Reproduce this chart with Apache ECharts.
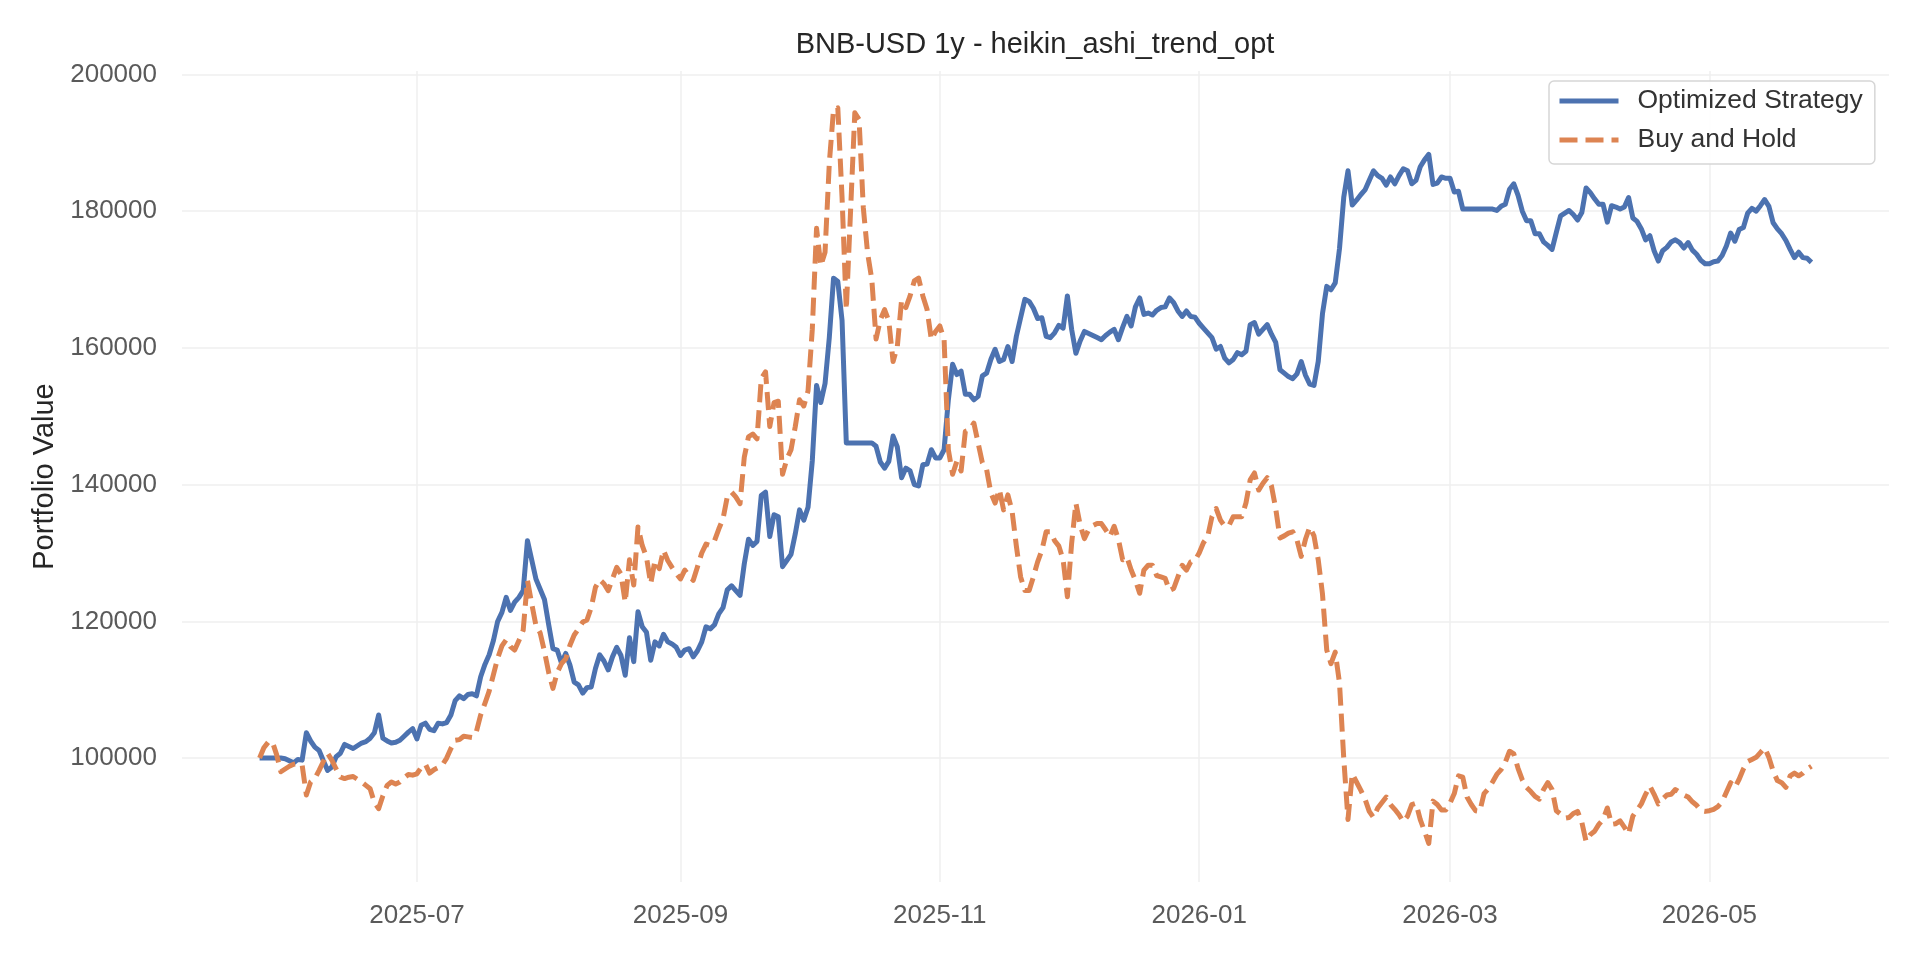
<!DOCTYPE html>
<html>
<head>
<meta charset="utf-8">
<title>BNB-USD 1y - heikin_ashi_trend_opt</title>
<script src="https://cdn.jsdelivr.net/npm/echarts@6/dist/echarts.min.js"></script>
<style>
html, body { margin: 0; padding: 0; background: #ffffff; }
#main { width: 1920px; height: 960px; }
</style>
</head>
<body>
<div id="main"></div>
<script>
// first day of both series (one value per calendar day after it)
var startDate = '2025-05-25';
var seriesNames = ['Optimized Strategy', 'Buy and Hold'];

// portfolio value of the optimized strategy, daily
var strategyValues = [
	100000, 100000, 100000, 100000, 100000, 100000, 99900, 99600, 99300, 99800,
	99700, 103700, 102500, 101600, 101100, 99600, 98200, 98700, 100200, 100700,
	102000, 101700, 101400, 101800, 102200, 102400, 102900, 103700, 106300, 102900,
	102500, 102200, 102300, 102600, 103200, 103800, 104300, 102800, 104800, 105100,
	104200, 104000, 105100, 105000, 105200, 106300, 108400, 109100, 108700, 109300,
	109400, 109100, 111900, 113700, 115100, 117200, 120000, 121300, 123500, 121600,
	122800, 123500, 124500, 131800, 129000, 126200, 124700, 123200, 119500, 116000,
	115800, 113900, 115300, 113600, 111100, 110700, 109500, 110300, 110400, 113100,
	115100, 114200, 112900, 114800, 116200, 115000, 112100, 117600, 114100, 121400,
	119200, 118400, 114300, 117000, 116400, 118100, 117000, 116700, 116200, 115000,
	115800, 116000, 114800, 115700, 117000, 119200, 118900, 119500, 121100, 122000,
	124600, 125200, 124500, 123800, 128400, 132000, 131100, 131700, 138400, 138900,
	132400, 135600, 135300, 128000, 128900, 129800, 132800, 136300, 134800, 136700,
	143500, 154500, 152000, 154800, 161500, 170200, 169700, 164000, 146100, 146100,
	146100, 146100, 146100, 146100, 146100, 145600, 143300, 142400, 143400, 147100,
	145500, 141000, 142400, 142000, 140000, 139800, 142900, 143000, 145100, 143900,
	143900, 145100, 152400, 157600, 156100, 156600, 153200, 153200, 152400, 152900,
	155900, 156300, 158300, 159800, 158000, 158300, 160200, 158000, 161700, 164400,
	167100, 166800, 165800, 164300, 164400, 161700, 161500, 162200, 163300, 162900,
	167600, 162700, 159200, 161000, 162400, 162100, 161800, 161500, 161200, 161800,
	162300, 162700, 161200, 163000, 164600, 163200, 166000, 167300, 164900, 165100,
	164800, 165500, 165900, 166000, 167300, 166600, 165400, 164600, 165400, 164600,
	164500, 163600, 162900, 162200, 161500, 159800, 160200, 158500, 157800, 158300,
	159300, 159000, 159500, 163400, 163700, 162000, 162700, 163400, 162000, 160800,
	156800, 156300, 155800, 155500, 156200, 158000, 156000, 154700, 154500, 158000,
	165000, 169000, 168500, 169500, 174500, 182000, 185900, 180900, 181600, 182400,
	183100, 184500, 185900, 185200, 184800, 183800, 185000, 184000, 185200, 186200,
	185900, 184000, 184500, 186500, 187500, 188300, 183900, 184100, 185000, 184800,
	184800, 182800, 182900, 180300, 180300, 180300, 180300, 180300, 180300, 180300,
	180300, 180100, 180700, 181000, 183200, 184000, 182300, 180000, 178600, 178600,
	176700, 176700, 175500, 175000, 174400, 176900, 179300, 179700, 180100, 179500,
	178700, 179800, 183400, 182700, 181800, 181000, 181000, 178400, 180800, 180600,
	180300, 180600, 182000, 179000, 178500, 177400, 175800, 176400, 174200, 172700,
	174200, 174700, 175500, 175800, 175400, 174600, 175400, 174300, 173700, 172800,
	172300, 172300, 172600, 172700, 173500, 174900, 176800, 175600, 177300, 177600,
	179700, 180400, 180000, 180800, 181700, 180700, 178300, 177400, 176700, 175700,
	174400, 173200, 174000, 173200, 173100, 172500
];

// portfolio value of buy and hold, daily
var buyHoldValues = [
	100000, 101500, 102300, 102400, 100500, 98000, 98400, 98800, 99100, 99200,
	99000, 94600, 96500, 97000, 98200, 99500, 100700, 99700, 98400, 97200,
	97000, 97200, 97300, 96900, 96500, 96000, 95500, 93500, 92600, 94500,
	96000, 96500, 96200, 96500, 97100, 97600, 97500, 97700, 98600, 99100,
	97800, 98300, 98600, 99000, 100000, 101400, 102600, 102700, 103200, 103100,
	103000, 103900, 106300, 108000, 109800, 112200, 114600, 116400, 117300, 116300,
	115800, 117200, 118700, 126000, 122600, 119400, 118300, 115600, 112500, 110200,
	112500, 113800, 114500, 116500, 118000, 118900, 119900, 120200, 122000, 125000,
	126100, 125500, 124500, 126200, 127900, 126900, 122800, 129000, 125300, 133800,
	131100, 129400, 125500, 128900, 127700, 130400, 128900, 127900, 127000, 126200,
	127500, 126700, 126000, 128000, 130000, 131300, 131100, 131800, 133500, 135000,
	138200, 138900, 138200, 137200, 144000, 147000, 147400, 146700, 155500, 156500,
	148500, 152000, 152200, 141500, 143700, 145100, 148500, 152400, 151500, 153700,
	162700, 177500, 172000, 174000, 187000, 194900, 195100, 182000, 165600, 180000,
	194400, 193400, 180500, 173900, 170000, 161300, 164100, 165600, 163900, 158000,
	160200, 167000, 165900, 167600, 169800, 170200, 167600, 165600, 161200, 162400,
	163200, 161200, 145100, 141500, 143400, 142000, 147800, 148000, 149000, 146100,
	143200, 142200, 138800, 137300, 139300, 136300, 138500, 136100, 131000, 126500,
	124500, 124500, 126500, 128700, 130400, 133100, 133100, 131800, 131000, 129000,
	123600, 131400, 137300, 134100, 132100, 133400, 134000, 134300, 134300, 133400,
	132400, 133900, 132000, 129000, 129400, 127500, 126000, 124100, 127500, 128200,
	128200, 126700, 126500, 126300, 124500, 124800, 126500, 128200, 127500, 128700,
	128900, 130000, 131500, 132400, 135300, 136500, 134800, 133900, 134000, 135300,
	135300, 135300, 137300, 140700, 141700, 139200, 140200, 141000, 139800, 136500,
	132200, 132500, 132900, 133100, 131900, 129500, 132000, 133800, 132500, 129000,
	124000, 115800, 113800, 115500, 111000, 100000, 91000, 97700, 96500, 95300,
	94000, 92200, 91300, 92700, 93500, 94300, 93200, 92500, 91700, 90700,
	91500, 93200, 93400, 91000, 89300, 87500, 93700, 93200, 92400, 92400,
	93400, 94800, 97400, 97200, 94300, 93200, 92300, 92200, 94800, 95500,
	96500, 97600, 98300, 99400, 101000, 100600, 98500, 96800, 95700, 95100,
	94400, 94000, 95400, 96400, 95400, 92300, 91800, 91200, 91300, 91900,
	92200, 90600, 87800, 88800, 89300, 90300, 91000, 92700, 90300, 90400,
	90800, 89900, 88900, 91500, 92400, 93300, 94700, 95900, 94700, 93300,
	94000, 94600, 94700, 95400, 95000, 94600, 94300, 93600, 93100, 92300,
	92200, 92300, 92500, 92900, 93600, 95000, 96400, 95700, 96900, 98400,
	99500, 99800, 100100, 100800, 101500, 100100, 98100, 96700, 96400, 95700,
	97400, 97800, 97400, 97800, 98400, 98800
];

// x tick labels (every second month)
var tickDates = ['2025-07-01', '2025-09-01', '2025-11-01', '2026-01-01', '2026-03-01', '2026-05-01'];

var DAY = 86400000;

function toUtc(s) {
	var p = s.split('-');
	return Date.UTC(+p[0], +p[1] - 1, +p[2]);
}

function pad2(n) {
	return n < 10 ? '0' + n : '' + n;
}

function toPairs(values) {
	var t0 = toUtc(startDate);
	var out = [];
	for (var i = 0; i < values.length; i++) {
		out.push([t0 + i * DAY, values[i]]);
	}
	return out;
}

var t0 = toUtc(startDate);
var t1 = t0 + (strategyValues.length - 1) * DAY;
// 5% padding on both sides like the original plot
var pad = (t1 - t0) * 0.05;
var tickValues = tickDates.map(toUtc);

var font = "'Liberation Sans', Arial, 'DejaVu Sans', sans-serif";
var gridColor = '#efefef';
var lineWidth = 5;

var chart = echarts.init(document.getElementById('main'), null, { renderer: 'canvas' });

chart.setOption({
	animation: false,
	backgroundColor: '#ffffff',
	textStyle: { fontFamily: font },
	title: {
		text: 'BNB-USD 1y - heikin_ashi_trend_opt',
		left: 1035,
		top: 29,
		textAlign: 'center',
		padding: 0,
		textStyle: {
			fontFamily: font,
			fontSize: 29,
			lineHeight: 32,
			fontWeight: 'normal',
			color: '#262626'
		}
	},
	legend: {
		orient: 'vertical',
		left: 1549,
		top: 81,
		padding: [5, 12, 9, 8],
		itemGap: 9,
		itemWidth: 59,
		itemHeight: 14,
		backgroundColor: 'rgba(255,255,255,0.85)',
		borderColor: '#d6d6d6',
		borderWidth: 1.5,
		borderRadius: 5,
		selectedMode: false,
		data: seriesNames,
		// line only, no marker in the middle
		itemStyle: { opacity: 0 },
		lineStyle: { width: lineWidth },
		textStyle: {
			fontFamily: font,
			fontSize: 26.5,
			lineHeight: 30,
			color: '#333333',
			padding: [0, 0, 0, 14]
		}
	},
	grid: {
		left: 182,
		right: 31,
		top: 71,
		bottom: 78
	},
	// dates are kept as UTC timestamps on a plain value axis
	xAxis: {
		type: 'value',
		min: t0 - pad,
		max: t1 + pad,
		axisLine: { show: false },
		axisTick: { show: false, customValues: tickValues },
		splitLine: { show: true, lineStyle: { color: gridColor, width: 1.5 } },
		axisLabel: {
			customValues: tickValues,
			margin: 21,
			fontFamily: font,
			fontSize: 26,
			color: '#5a5a5a',
			formatter: function (v) {
				var d = new Date(v);
				return d.getUTCFullYear() + '-' + pad2(d.getUTCMonth() + 1);
			}
		}
	},
	yAxis: {
		type: 'value',
		min: 81870,
		max: 200500,
		splitNumber: 5,
		name: 'Portfolio Value',
		nameLocation: 'middle',
		nameGap: 119,
		nameTextStyle: {
			fontFamily: font,
			fontSize: 29,
			color: '#262626'
		},
		axisLine: { show: false },
		axisTick: { show: false },
		splitLine: {
			show: true,
			showMinLine: false,
			showMaxLine: false,
			lineStyle: { color: gridColor, width: 1.5 }
		},
		axisLabel: {
			margin: 25,
			fontFamily: font,
			fontSize: 26,
			color: '#5a5a5a',
			showMinLabel: false,
			showMaxLabel: false,
			formatter: function (v) {
				return String(v);
			}
		}
	},
	series: [
		{
			name: seriesNames[0],
			type: 'line',
			data: toPairs(strategyValues),
			showSymbol: false,
			symbol: 'none',
			lineStyle: { color: '#4c72b0', width: lineWidth, join: 'round' },
			itemStyle: { color: '#4c72b0' }
		},
		{
			name: seriesNames[1],
			type: 'line',
			data: toPairs(buyHoldValues),
			showSymbol: false,
			symbol: 'none',
			lineStyle: { color: '#dd8452', width: lineWidth, type: [18, 8], join: 'round' },
			itemStyle: { color: '#dd8452' }
		}
	]
});
</script>
</body>
</html>
